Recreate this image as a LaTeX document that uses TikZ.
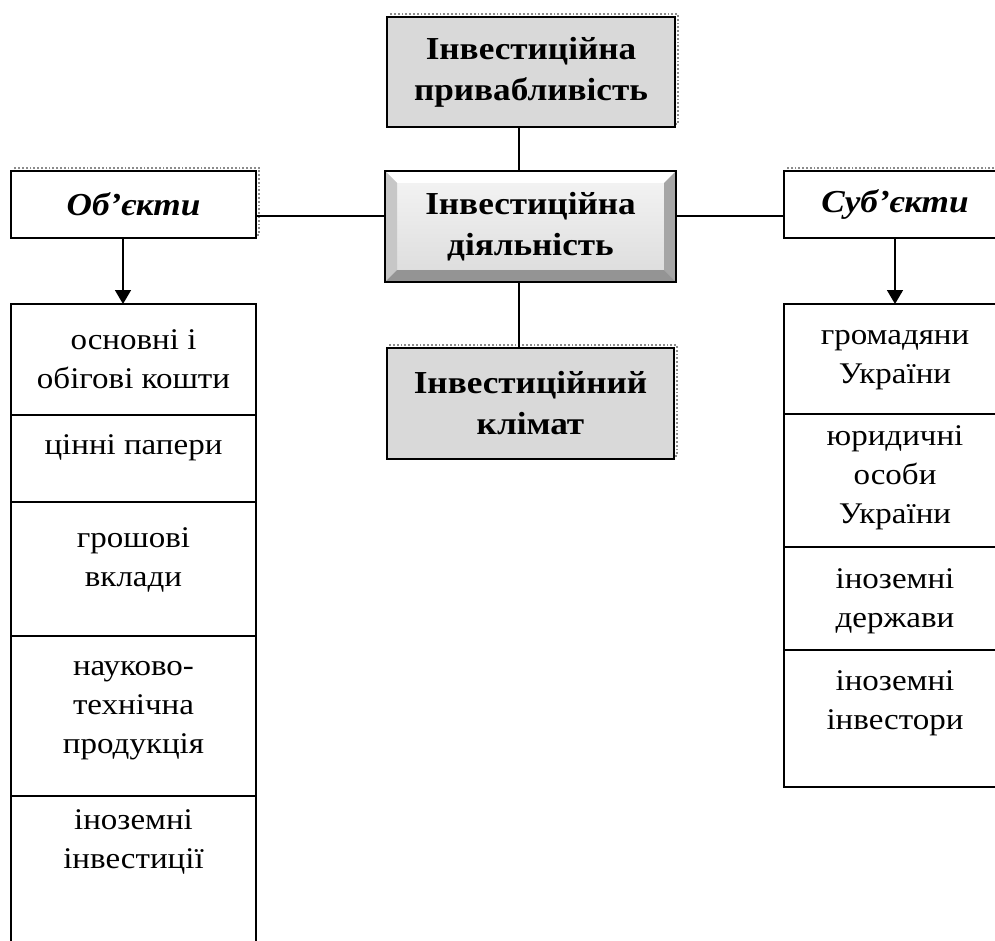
\documentclass[tikz,border=0pt]{standalone}
\usepackage{fontspec}
\setmainfont[FakeStretch=1.1]{Liberation Serif}
\usetikzlibrary{arrows.meta,calc,shadows}

\tikzset{
  boxshadow/.style={general shadow={draw=black!45, densely dotted, line width=0.9pt,
      shadow xshift=1.5pt, shadow yshift=1.5pt}},
  bevel/.style={draw, line width=1pt, top color=black!4, bottom color=black!14,
    path picture={
      \fill[white] (path picture bounding box.north west) -- (path picture bounding box.north east)
        -- ([shift={(-6pt,-6pt)}]path picture bounding box.north east)
        -- ([shift={(6pt,-6pt)}]path picture bounding box.north west) -- cycle;
      \fill[black!22] (path picture bounding box.north west) -- ([shift={(6pt,-6pt)}]path picture bounding box.north west)
        -- ([shift={(6pt,6pt)}]path picture bounding box.south west) -- (path picture bounding box.south west) -- cycle;
      \fill[black!35] (path picture bounding box.north east) -- ([shift={(-6pt,-6pt)}]path picture bounding box.north east)
        -- ([shift={(-6pt,6pt)}]path picture bounding box.south east) -- (path picture bounding box.south east) -- cycle;
      \fill[black!42] (path picture bounding box.south west) -- ([shift={(6pt,6pt)}]path picture bounding box.south west)
        -- ([shift={(-6pt,6pt)}]path picture bounding box.south east) -- (path picture bounding box.south east) -- cycle;
    }}
}

\begin{document}
\begin{tikzpicture}[x=0.5pt, y=-0.5pt, outer sep=0pt, >={Triangle[length=7pt,width=8pt]},
  head/.style={draw, line width=1pt, inner sep=0pt, align=center, font=\fontsize{16}{20.5}\selectfont\bfseries},
  greybox/.style={head, fill=black!15, boxshadow},
  sidebox/.style={head, fill=white, boxshadow, font=\fontsize{16}{20}\selectfont\bfseries\itshape},
  item/.style={align=center, inner sep=0pt, font=\fontsize{15}{19.5}\selectfont},
  link/.style={line width=0.8pt},
  cell/.style={line width=1pt}]

\useasboundingbox (0,0) rectangle (995,941);
\clip (0,0) rectangle (995,941);

% centre column
\node[greybox, minimum width=144pt, minimum height=55pt] at (531,72) (attr) {Інвестиційна\\привабливість};
\node[head, bevel, minimum width=145.5pt, minimum height=55.5pt] at (530.5,226.5) (activity) {Інвестиційна\\діяльність};
\node[greybox, minimum width=143.5pt, minimum height=55.5pt] at (530.5,403.5) (climate) {Інвестиційний\\клімат};

\coordinate (spine) at (519,0);
\draw[link] (attr.south -| spine) -- (activity.north -| spine);
\draw[link] (activity.south -| spine) -- (climate.north -| spine);

% objects and subjects
\node[sidebox, minimum width=122.5pt, minimum height=33.5pt] at (133.5,204.5) (objects) {Об’єкти};
\node[sidebox, minimum width=111pt, minimum height=33.5pt] at (895,204.5) (subjects) {Суб’єкти};

\coordinate (hline) at (0,216);
\draw[link] (objects.east |- hline) -- (activity.west |- hline);
\draw[link] (activity.east |- hline) -- (subjects.west |- hline);

\coordinate (objtop) at (123,304);
\coordinate (subtop) at (895,304);
\draw[link, ->] (objects.south -| objtop) -- (objtop);
\draw[link, ->] (subjects.south) -- (subtop);

% list of objects
\draw[cell] (11,304) rectangle (256,415);
\draw[cell] (11,415) rectangle (256,502);
\draw[cell] (11,502) rectangle (256,636);
\draw[cell] (11,636) rectangle (256,796);
\draw[cell] (11,796) rectangle (256,960);

\node[item] at (133.5,359) (o1) {основні і\\обігові кошти};
\node[item] at (133.5,448) (o2) {цінні папери};
\node[item] at (133.5,560) (o3) {грошові\\вклади};
\node[item] at (133.5,711) (o4) {науково-\\технічна\\продукція};
\node[item] at (133.5,842) (o5) {іноземні\\інвестиції};

% list of subjects
\draw[cell] (784,304) rectangle (1006,414);
\draw[cell] (784,414) rectangle (1006,547);
\draw[cell] (784,547) rectangle (1006,650);
\draw[cell] (784,650) rectangle (1006,787);

\node[item] at (895,360) (s1) {громадяни\\України};
\node[item] at (895,478) (s2) {юридичні\\особи\\України};
\node[item] at (895,601) (s3) {іноземні\\держави};
\node[item] at (895,703) (s4) {іноземні\\інвестори};

\end{tikzpicture}
\end{document}
